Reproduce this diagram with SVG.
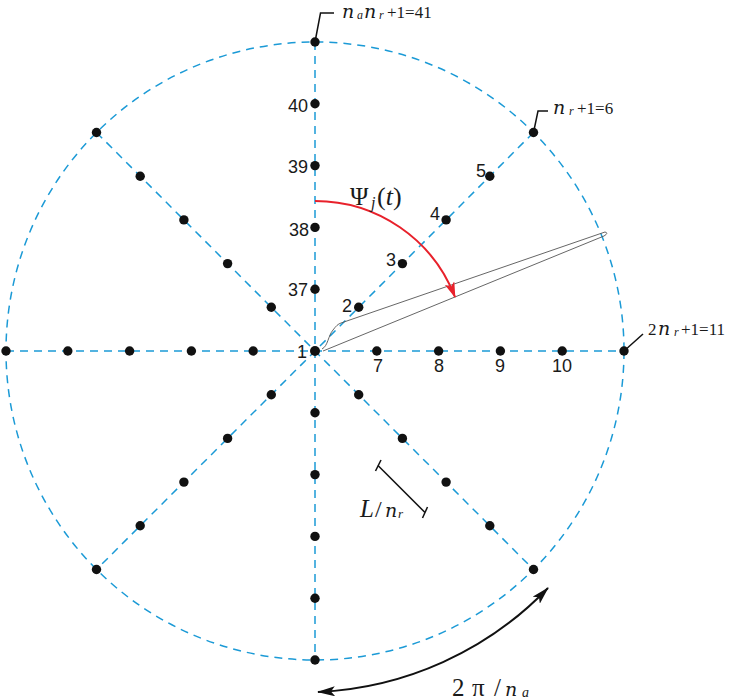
<svg xmlns="http://www.w3.org/2000/svg" width="729" height="700" viewBox="0 0 729 700">
<style>
.dash{fill:none;stroke:#1b9ad6;stroke-width:1.5;stroke-dasharray:8 6}
.dot{fill:#111}
.num{font-family:"Liberation Sans",Arial,sans-serif;font-size:18px;fill:#1a1a1a}
.ser{font-family:"Liberation Serif","Times New Roman",serif;fill:#1a1a1a}
.it{font-style:italic}
.nn{font-family:"DejaVu Serif","Liberation Serif",serif;font-style:italic;font-size:19px}
.lead{fill:none;stroke:#111;stroke-width:1.5}
</style>
<defs>
<marker id="redHead" viewBox="0 0 16 10" refX="15" refY="5" markerWidth="16" markerHeight="10" markerUnits="userSpaceOnUse" orient="auto">
<path d="M0,0 L16,5 L0,10 L4,5 z" fill="#e8212b"/>
</marker>
<marker id="blkHead" viewBox="0 0 18 10" refX="17" refY="5" markerWidth="18" markerHeight="10" markerUnits="userSpaceOnUse" orient="auto-start-reverse">
<path d="M0,0 L18,5 L0,10 L4,5 z" fill="#111"/>
</marker>
</defs>
<rect width="729" height="700" fill="#fff"/>

<g id="connectors">
<circle class="dash" cx="315" cy="351" r="309"/>
<line class="dash" x1="6" y1="351" x2="624" y2="351"/>
<line class="dash" x1="315" y1="42" x2="315" y2="660"/>
<line class="dash" x1="96.5" y1="132.5" x2="533.5" y2="569.5"/>
<line class="dash" x1="533.5" y1="132.5" x2="96.5" y2="569.5"/>
<path d="M322,349 C328,346 328,336 333,330 C336,326 338,324 341,323 L605,232 Q609,233 604,236 L323,351" fill="none" stroke="#555" stroke-width="0.9"/>
<path d="M315,201 A150,150 0 0 1 455,297" fill="none" stroke="#e8212b" stroke-width="2" marker-end="url(#redHead)"/>
<path d="M548,588 A340,340 0 0 1 318,692" fill="none" stroke="#111" stroke-width="2" marker-start="url(#blkHead)" marker-end="url(#blkHead)"/>
<polyline class="lead" points="315,42 320.5,13 334,13"/>
<polyline class="lead" points="533.5,132.5 538,111 548,111"/>
<polyline class="lead" points="624,351 643,334"/>
<g stroke="#111" stroke-width="1.5">
<line x1="378" y1="465.5" x2="425" y2="512.5"/>
<line x1="375.5" y1="471" x2="381" y2="460"/>
<line x1="422.5" y1="518" x2="427.5" y2="507"/>
</g>
</g>

<g id="n1"><circle class="dot" cx="315" cy="351" r="5"/><text class="num" x="307" y="358" text-anchor="end">1</text></g>
<g id="n2"><circle class="dot" cx="358.7" cy="307.3" r="4.7"/><text class="num" x="352" y="312" text-anchor="end">2</text></g>
<g id="n3"><circle class="dot" cx="402.4" cy="263.6" r="4.7"/><text class="num" x="396" y="266" text-anchor="end">3</text></g>
<g id="n4"><circle class="dot" cx="446.1" cy="219.9" r="4.7"/><text class="num" x="440" y="220" text-anchor="end">4</text></g>
<g id="n5"><circle class="dot" cx="489.8" cy="176.2" r="4.7"/><text class="num" x="486" y="177" text-anchor="end">5</text></g>
<g id="n6"><circle class="dot" cx="533.5" cy="132.5" r="4.7"/>
<text class="ser" y="114"><tspan class="nn" x="553">n</tspan><tspan class="it" x="569" y="115" font-size="12">r</tspan><tspan x="577" y="114" font-size="17">+1=6</tspan></text></g>
<g id="n7"><circle class="dot" cx="376.8" cy="351" r="4.7"/><text class="num" x="378" y="372" text-anchor="middle">7</text></g>
<g id="n8"><circle class="dot" cx="438.6" cy="351" r="4.7"/><text class="num" x="439" y="372" text-anchor="middle">8</text></g>
<g id="n9"><circle class="dot" cx="500.4" cy="351" r="4.7"/><text class="num" x="500" y="372" text-anchor="middle">9</text></g>
<g id="n10"><circle class="dot" cx="562.2" cy="351" r="4.7"/><text class="num" x="562" y="372" text-anchor="middle">10</text></g>
<g id="n11"><circle class="dot" cx="624" cy="351" r="4.7"/>
<text class="ser" y="335"><tspan x="648" font-size="17">2</tspan><tspan class="nn" x="658">n</tspan><tspan class="it" x="674" y="336" font-size="12">r</tspan><tspan x="681" y="335" font-size="17">+1=11</tspan></text></g>
<g id="n37"><circle class="dot" cx="315" cy="289.2" r="4.7"/><text class="num" x="308" y="296" text-anchor="end">37</text></g>
<g id="n38"><circle class="dot" cx="315" cy="227.4" r="4.7"/><text class="num" x="309" y="236" text-anchor="end">38</text></g>
<g id="n39"><circle class="dot" cx="315" cy="165.6" r="4.7"/><text class="num" x="308" y="173" text-anchor="end">39</text></g>
<g id="n40"><circle class="dot" cx="315" cy="103.8" r="4.7"/><text class="num" x="308" y="112" text-anchor="end">40</text></g>
<g id="n41"><circle class="dot" cx="315" cy="42" r="4.7"/>
<text class="ser" y="18"><tspan class="nn" x="342">n</tspan><tspan class="it" x="357" y="19" font-size="12">a</tspan><tspan class="nn" x="364" y="18">n</tspan><tspan class="it" x="379" y="19" font-size="12">r</tspan><tspan x="387" y="18" font-size="17">+1=41</tspan></text></g>

<g id="left">
<circle class="dot" cx="253.2" cy="351" r="4.7"/><circle class="dot" cx="191.4" cy="351" r="4.7"/><circle class="dot" cx="129.6" cy="351" r="4.7"/><circle class="dot" cx="67.8" cy="351" r="4.7"/><circle class="dot" cx="6" cy="351" r="4.7"/>
</g>
<g id="down">
<circle class="dot" cx="315" cy="412.8" r="4.7"/><circle class="dot" cx="315" cy="474.6" r="4.7"/><circle class="dot" cx="315" cy="536.4" r="4.7"/><circle class="dot" cx="315" cy="598.2" r="4.7"/><circle class="dot" cx="315" cy="660" r="4.7"/>
</g>
<g id="upleft">
<circle class="dot" cx="271.3" cy="307.3" r="4.7"/><circle class="dot" cx="227.6" cy="263.6" r="4.7"/><circle class="dot" cx="183.9" cy="219.9" r="4.7"/><circle class="dot" cx="140.2" cy="176.2" r="4.7"/><circle class="dot" cx="96.5" cy="132.5" r="4.7"/>
</g>
<g id="downright">
<circle class="dot" cx="358.7" cy="394.7" r="4.7"/><circle class="dot" cx="402.4" cy="438.4" r="4.7"/><circle class="dot" cx="446.1" cy="482.1" r="4.7"/><circle class="dot" cx="489.8" cy="525.8" r="4.7"/><circle class="dot" cx="533.5" cy="569.5" r="4.7"/>
</g>
<g id="downleft">
<circle class="dot" cx="271.3" cy="394.7" r="4.7"/><circle class="dot" cx="227.6" cy="438.4" r="4.7"/><circle class="dot" cx="183.9" cy="482.1" r="4.7"/><circle class="dot" cx="140.2" cy="525.8" r="4.7"/><circle class="dot" cx="96.5" cy="569.5" r="4.7"/>
</g>

<g id="labels">
<text class="ser" y="205"><tspan x="350" font-size="25">Ψ</tspan><tspan class="it" x="371" y="208" font-size="16">j</tspan><tspan x="377" y="205" font-size="26">(</tspan><tspan class="it" font-size="26">t</tspan><tspan font-size="26">)</tspan></text>
<text class="ser" y="517"><tspan class="it" x="360" font-size="25">L</tspan><tspan x="375" font-size="24">/</tspan><tspan class="nn" x="385" font-size="21px">n</tspan><tspan class="it" x="398" y="518" font-size="13">r</tspan></text>
<text class="ser" y="696"><tspan x="452" font-size="25">2</tspan><tspan x="472" font-size="25">π</tspan><tspan x="494" font-size="25">/</tspan><tspan class="nn" x="505" font-size="23px">n</tspan><tspan class="it" x="522" y="697" font-size="14">a</tspan></text>
</g>
</svg>
